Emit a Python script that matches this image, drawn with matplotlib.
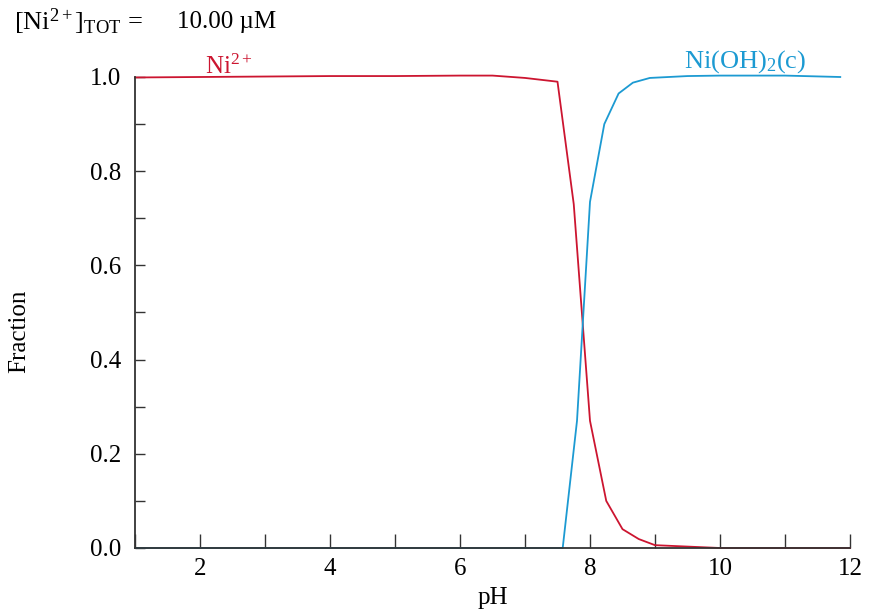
import numpy as np
import matplotlib
matplotlib.use("Agg")
import matplotlib.pyplot as plt
from matplotlib.ticker import MultipleLocator, FormatStrFormatter

plt.rcParams['font.family'] = ['Liberation Serif', 'DejaVu Serif']
plt.rcParams['mathtext.fontset'] = 'custom'
plt.rcParams['mathtext.rm'] = 'Liberation Serif'
plt.rcParams['mathtext.it'] = 'Liberation Serif:italic'

# Ni2+ fraction vs pH
pH_ni = [1, 2, 3, 4, 5, 6, 6.5, 7, 7.5, 7.75, 8.0, 8.25, 8.5, 8.75, 9.0, 10, 11, 12]
frac_ni = [0.999, 1.0, 1.001, 1.002, 1.002, 1.003, 1.003, 0.998, 0.99,
           0.73, 0.27, 0.10, 0.04, 0.019, 0.006, 0.0, 0.0, 0.0]

# Ni(OH)2(c) fraction vs pH
pH_oh = [1, 3, 5, 7, 7.58, 7.8, 8.0, 8.22, 8.44, 8.66, 8.92, 9.5, 10, 11, 11.85]
frac_oh = [0.0, 0.0, 0.0, 0.0, 0.0, 0.27, 0.735, 0.90, 0.965, 0.988, 0.998,
           1.002, 1.003, 1.003, 1.0]

red = "#cc1530"
blue = "#1c9ad2"
fs = 18

fig = plt.figure(figsize=(8.69, 6.13), dpi=100)
ax = fig.add_axes([135/869, 1-548/613, (850-135)/869, (548-77)/613])

ax.plot(pH_ni, frac_ni, color=red, lw=1.3, clip_on=False, zorder=2)
ax.plot(pH_oh, frac_oh, color=blue, lw=1.3, clip_on=False, zorder=2)

ax.set_xlim(1, 12)
ax.set_ylim(0, 1.0)
ax.spines['top'].set_visible(False)
ax.spines['right'].set_visible(False)
for s in ['left', 'bottom']:
    ax.spines[s].set_color("#333333")
    ax.spines[s].set_linewidth(1.3)
    ax.spines[s].set_zorder(3)

ax.xaxis.set_major_locator(MultipleLocator(2))
ax.xaxis.set_minor_locator(MultipleLocator(1))
ax.yaxis.set_major_locator(MultipleLocator(0.2))
ax.yaxis.set_minor_locator(MultipleLocator(0.1))
ax.tick_params(axis='x', which='both', direction='in', length=10, width=1,
               color="#333333", labelsize=fs, pad=7)
ax.tick_params(axis='y', which='both', direction='in', length=7, width=1,
               color="#333333", labelsize=fs, pad=10)
ax.yaxis.set_major_formatter(FormatStrFormatter('%.1f'))

ax.set_xlabel("pH", fontsize=fs, labelpad=5)
ax.set_ylabel("Fraction", fontsize=fs)
ax.yaxis.set_label_coords(-0.147, 0.46)

ax.text(2.45, 1.006, r"Ni$^{2+}$", color=red, fontsize=fs, ha='center', va='baseline')
ax.text(10.38, 1.019, r"Ni(OH)$_2$(c)", color=blue, fontsize=19, ha='center', va='baseline')

fig.text(14/869, 1-22/613, r"[Ni$^{2+}$]$_{\mathrm{TOT}}$ =", fontsize=19,
         ha='left', va='center')
fig.text(177/869, 1-22/613, "10.00 µM", fontsize=fs, ha='left', va='center')

fig.savefig("out.png", dpi=100, facecolor="white")
